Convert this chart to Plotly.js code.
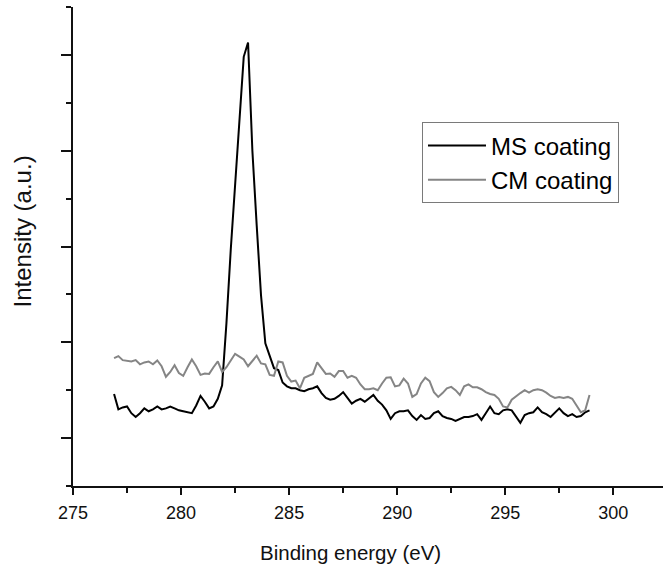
<!DOCTYPE html>
<html>
<head>
<meta charset="utf-8">
<script src="https://cdn.plot.ly/plotly-3.0.1.min.js"></script>
<style>html,body{margin:0;padding:0;background:#fff;}#chart{width:663px;height:564px;}</style>
</head>
<body>
<div id="chart"></div>
<script>
var energy = [276.9,277.1,277.3,277.5,277.7,277.9,278.1,278.3,278.5,278.7,278.9,279.1,279.3,279.5,279.7,279.9,280.1,280.3,280.5,280.7,280.9,281.1,281.3,281.5,281.7,281.9,282.1,282.3,282.5,282.7,282.9,283.1,283.3,283.5,283.7,283.9,284.1,284.3,284.5,284.7,284.9,285.1,285.3,285.5,285.7,285.9,286.1,286.3,286.5,286.7,286.9,287.1,287.3,287.5,287.7,287.9,288.1,288.3,288.5,288.7,288.9,289.1,289.3,289.5,289.7,289.9,290.1,290.3,290.5,290.7,290.9,291.1,291.3,291.5,291.7,291.9,292.1,292.3,292.5,292.7,292.9,293.1,293.3,293.5,293.7,293.9,294.1,294.3,294.5,294.7,294.9,295.1,295.3,295.5,295.7,295.9,296.1,296.3,296.5,296.7,296.9,297.1,297.3,297.5,297.7,297.9,298.1,298.3,298.5,298.7,298.9];

var msCoating = [1.46,1.30,1.32,1.33,1.26,1.22,1.26,1.31,1.28,1.30,1.33,1.30,1.31,1.33,1.31,1.29,1.28,1.27,1.26,1.34,1.44,1.38,1.31,1.33,1.41,1.55,2.20,2.97,3.65,4.34,4.98,5.13,4.00,3.22,2.49,1.99,1.85,1.73,1.71,1.58,1.54,1.52,1.52,1.50,1.49,1.51,1.52,1.54,1.47,1.42,1.40,1.41,1.44,1.48,1.42,1.36,1.39,1.41,1.38,1.42,1.45,1.39,1.35,1.29,1.20,1.26,1.28,1.28,1.29,1.23,1.19,1.24,1.20,1.21,1.26,1.28,1.23,1.21,1.20,1.18,1.20,1.22,1.22,1.23,1.25,1.19,1.26,1.33,1.26,1.25,1.29,1.30,1.29,1.22,1.16,1.24,1.26,1.27,1.32,1.27,1.25,1.22,1.26,1.31,1.26,1.23,1.25,1.22,1.23,1.27,1.29];

var cmCoating = [1.835,1.856,1.814,1.81,1.80,1.814,1.77,1.79,1.80,1.77,1.81,1.75,1.64,1.69,1.76,1.68,1.65,1.74,1.82,1.75,1.66,1.675,1.67,1.74,1.80,1.69,1.74,1.81,1.88,1.85,1.82,1.75,1.80,1.86,1.78,1.77,1.66,1.65,1.80,1.79,1.65,1.59,1.60,1.52,1.63,1.65,1.67,1.79,1.73,1.67,1.675,1.64,1.70,1.70,1.63,1.65,1.63,1.56,1.51,1.51,1.52,1.50,1.57,1.63,1.635,1.54,1.55,1.62,1.57,1.43,1.46,1.57,1.63,1.595,1.48,1.43,1.47,1.52,1.535,1.50,1.45,1.54,1.56,1.53,1.53,1.51,1.48,1.46,1.45,1.41,1.33,1.32,1.40,1.44,1.47,1.50,1.475,1.50,1.51,1.50,1.475,1.44,1.42,1.43,1.42,1.43,1.41,1.34,1.27,1.29,1.45];

var seriesNames = ['MS coating', 'CM coating'];
var xTickValues = [275, 280, 285, 290, 295, 300];
var xTitle = 'Binding energy (eV)';
var yTitle = 'Intensity (a.u.)';

var font = 'Liberation Sans, Arial, Helvetica, sans-serif';

var traces = [
  {x: energy, y: msCoating, name: seriesNames[0], type: 'scatter', mode: 'lines',
   line: {color: '#000000', width: 2}},
  {x: energy, y: cmCoating, name: seriesNames[1], type: 'scatter', mode: 'lines',
   line: {color: '#858585', width: 2}}
];

var layout = {
  width: 663, height: 564,
  margin: {l: 73, r: 0, t: 7, b: 78, pad: 0},
  paper_bgcolor: '#ffffff', plot_bgcolor: '#ffffff',
  font: {family: font, color: '#000'},
  showlegend: true,
  legend: {x: 0.5915, y: 0.759, xanchor: 'left', yanchor: 'top',
           bordercolor: '#7a7a7a', borderwidth: 1, bgcolor: '#ffffff',
           font: {family: font, size: 24, color: '#000'},
           itemwidth: 58, tracegroupgap: 0},
  xaxis: {
    range: [275, 302.3], tickvals: xTickValues, ticktext: xTickValues.map(String),
    showgrid: false, zeroline: false, showline: true, linecolor: '#111', linewidth: 2,
    ticks: 'outside', ticklen: 7, tickwidth: 2, tickcolor: '#111',
    minor: {dtick: 2.5, tick0: 275, ticks: 'outside', ticklen: 5, tickwidth: 2, tickcolor: '#111', showgrid: false},
    tickfont: {family: font, size: 18, color: '#111'},
    ticklabelstandoff: 2
  },
  yaxis: {
    range: [0.5, 5.5], tick0: 1, dtick: 1,
    showgrid: false, zeroline: false, showline: true, linecolor: '#111', linewidth: 2,
    ticks: 'outside', ticklen: 10, tickwidth: 2, tickcolor: '#111',
    minor: {dtick: 0.5, tick0: 0.5, ticks: 'outside', ticklen: 5, tickwidth: 2, tickcolor: '#111', showgrid: false},
    showticklabels: false
  },
  annotations: [
    {text: xTitle, xref: 'paper', yref: 'paper',
     x: 0.4695, y: -0.1378, xanchor: 'center', yanchor: 'middle', showarrow: false,
     font: {family: font, size: 20.5, color: '#111'}},
    {text: yTitle, textangle: -90, xref: 'paper', yref: 'paper',
     x: -0.086, y: 0.532, xanchor: 'center', yanchor: 'middle', showarrow: false,
     font: {family: font, size: 24, color: '#111'}}
  ]
};

Plotly.newPlot('chart', traces, layout, {staticPlot: true, displayModeBar: false});
</script>
</body>
</html>
